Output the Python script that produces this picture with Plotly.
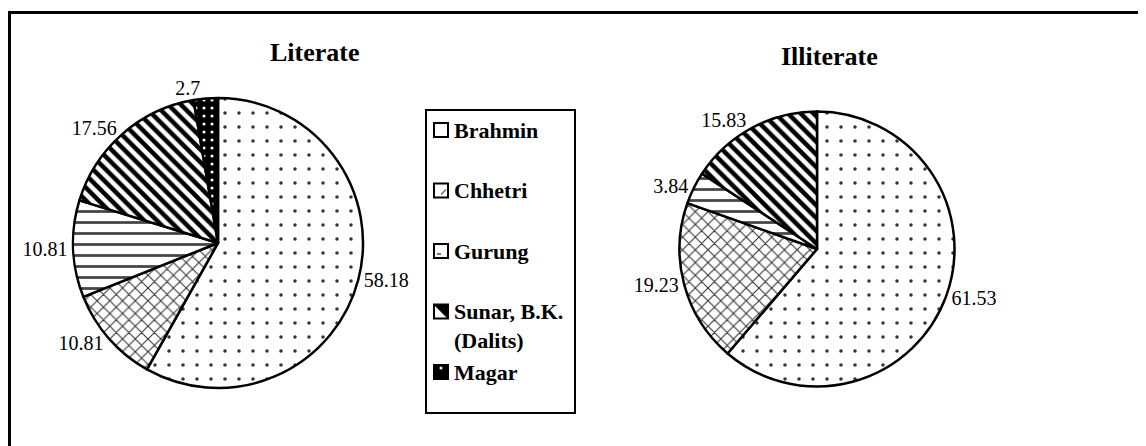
import plotly.graph_objects as go

# ---- data ----
categories = ["Brahmin", "Chhetri", "Gurung", "Sunar, B.K. (Dalits)", "Magar"]
legend_labels = ["Brahmin", "Chhetri", "Gurung", "Sunar, B.K.<br>(Dalits)", "Magar"]
literate_values = [58.18, 10.81, 10.81, 17.56, 2.7]
illiterate_categories = ["Brahmin", "Chhetri", "Gurung", "Sunar, B.K. (Dalits)"]
illiterate_values = [61.53, 19.23, 3.84, 15.83]
titles = ["Literate", "Illiterate"]

W, H = 1146, 446
OFF = 8  # page body margin
FONT = "Liberation Serif"

def px(x):
    return (x - OFF) / W

def py(y):
    return 1 - (y - OFF) / H

patterns = {
    "Brahmin": dict(shape=".", bgcolor="white", fgcolor="#333", size=14, solidity=0.05),
    "Chhetri": dict(shape="x", bgcolor="white", fgcolor="#333", size=9, solidity=0.22),
    "Gurung": dict(shape="-", bgcolor="white", fgcolor="#444", size=11, solidity=0.25),
    "Sunar, B.K. (Dalits)": dict(shape="\\", bgcolor="white", fgcolor="black", size=9, solidity=0.5),
    "Magar": dict(shape=".", bgcolor="black", fgcolor="white", size=8, solidity=0.12),
}

def pie(labels, values, cx, cy, r):
    return go.Pie(
        labels=labels,
        values=values,
        sort=False,
        direction="clockwise",
        rotation=0,
        textinfo="value",
        texttemplate="%{value}",
        textposition="outside",
        textfont=dict(family=FONT, size=20, color="black"),
        marker=dict(
            colors=["white"] * len(labels),
            line=dict(color="black", width=2.5),
            pattern=dict(
                shape=[patterns[l]["shape"] for l in labels],
                bgcolor=[patterns[l]["bgcolor"] for l in labels],
                fgcolor=[patterns[l]["fgcolor"] for l in labels],
                size=[patterns[l]["size"] for l in labels],
                solidity=[patterns[l]["solidity"] for l in labels],
                fillmode="replace",
            ),
        ),
        domain=dict(x=[px(cx - r), px(cx + r)], y=[py(cy + r), py(cy - r)]),
        showlegend=False,
        hoverinfo="label+value",
    )

fig = go.Figure()
fig.add_trace(pie(categories, literate_values, 218, 243, 145))
fig.add_trace(pie(illiterate_categories, illiterate_values, 817, 249, 137.5))

shapes = []
annotations = []

# outer frame
shapes.append(dict(type="rect", xref="paper", yref="paper",
                   x0=px(9.5), y0=-0.1, x1=1.1, y1=py(12.5),
                   line=dict(color="black", width=3), fillcolor="rgba(0,0,0,0)"))

# titles
annotations.append(dict(text="<b>%s</b>" % titles[0], x=px(315), y=py(53), xref="paper", yref="paper",
                        showarrow=False, font=dict(family=FONT, size=26, color="black"),
                        xanchor="center", yanchor="middle"))
annotations.append(dict(text="<b>%s</b>" % titles[1], x=px(829), y=py(57), xref="paper", yref="paper",
                        showarrow=False, font=dict(family=FONT, size=26, color="black"),
                        xanchor="center", yanchor="middle"))

# legend box
shapes.append(dict(type="rect", xref="paper", yref="paper",
                   x0=px(426), y0=py(413), x1=px(575), y1=py(110),
                   line=dict(color="black", width=2), fillcolor="white", layer="below"))

swatch_fill = ["white", "white", "white", "white", "black"]
for i, lab in enumerate(legend_labels):
    yc = 130 + 60.5 * i
    x0, x1 = 434, 448
    y0, y1 = yc - 7, yc + 7
    shapes.append(dict(type="rect", xref="paper", yref="paper",
                       x0=px(x0), x1=px(x1), y0=py(y1), y1=py(y0),
                       line=dict(color="black", width=2), fillcolor=swatch_fill[i]))
    if i == 1:
        shapes.append(dict(type="line", xref="paper", yref="paper",
                           x0=px(441), y0=py(yc + 4), x1=px(446), y1=py(yc - 1),
                           line=dict(color="#666", width=1.5)))
    if i == 2:
        shapes.append(dict(type="line", xref="paper", yref="paper",
                           x0=px(437), y0=py(yc + 3), x1=px(441), y1=py(yc + 3),
                           line=dict(color="#444", width=1.5)))
    if i == 3:
        shapes.append(dict(type="path", xref="paper", yref="paper",
                           path="M %f %f L %f %f L %f %f Z" % (px(x0), py(y0), px(x1), py(y0), px(x1), py(y1)),
                           line=dict(color="black", width=1), fillcolor="black"))
    if i == 4:
        shapes.append(dict(type="circle", xref="paper", yref="paper",
                           x0=px(439.5), x1=px(442.5), y0=py(yc - 2.5), y1=py(yc - 5.5),
                           line=dict(width=0), fillcolor="white"))
    if "<br>" in lab:
        annotations.append(dict(text="<b>%s</b>" % lab, x=px(452), y=py(yc - 15), xref="paper", yref="paper",
                                showarrow=False, align="left",
                                font=dict(family=FONT, size=22, color="black"),
                                xanchor="left", yanchor="top"))
    else:
        annotations.append(dict(text="<b>%s</b>" % lab, x=px(452), y=py(yc), xref="paper", yref="paper",
                                showarrow=False, align="left",
                                font=dict(family=FONT, size=22, color="black"),
                                xanchor="left", yanchor="middle"))

fig.update_layout(
    width=W, height=H,
    margin=dict(l=0, r=0, t=0, b=0),
    paper_bgcolor="white",
    plot_bgcolor="white",
    shapes=shapes,
    annotations=annotations,
    font=dict(family=FONT, color="black"),
)

fig.write_html("out.html")
